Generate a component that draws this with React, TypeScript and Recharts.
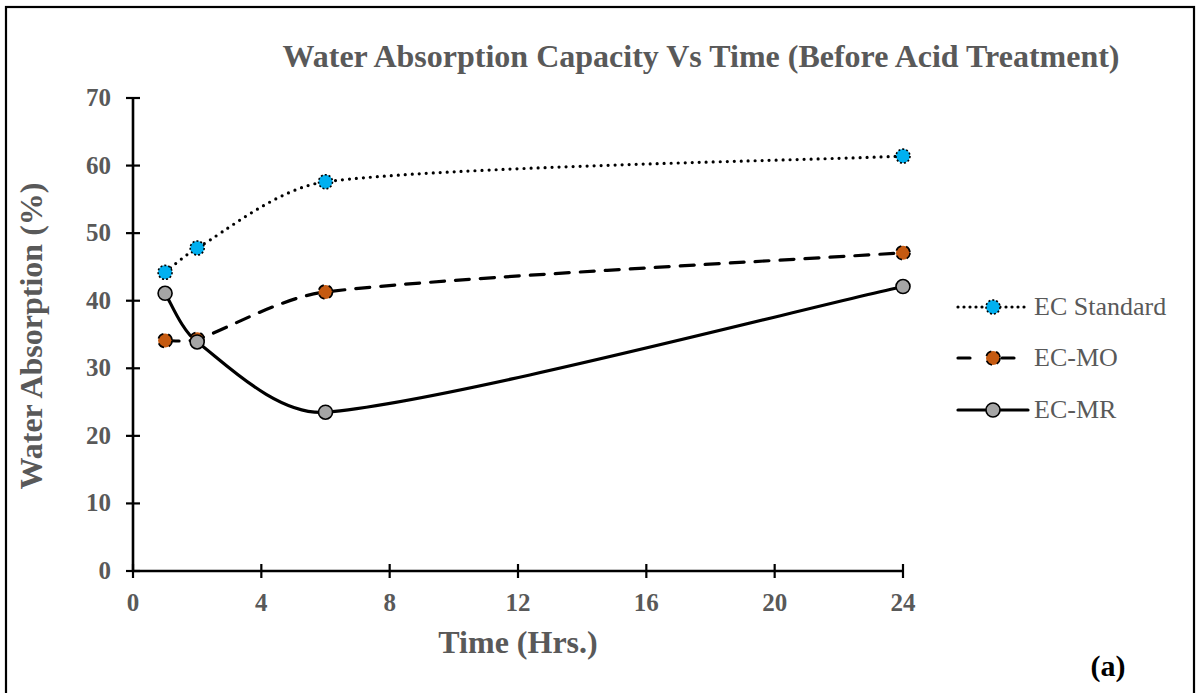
import React from 'react';
import { LineChart, Line, XAxis, YAxis, Legend } from 'recharts';

const hours = [1, 2, 6, 24];
const ecStandard = [44.2, 47.8, 57.6, 61.4];
const ecMo = [34.1, 34.3, 41.3, 47.1];
const ecMr = [41.1, 33.9, 23.5, 42.1];

const xTicks = [0, 4, 8, 12, 16, 20, 24];
const yTicks = [0, 10, 20, 30, 40, 50, 60, 70];

const series = [
  { key: 'std', name: 'EC Standard', fill: '#00B0F0', dash: '0 7', legendDash: '0 6', markerDash: '2 2' },
  { key: 'mo', name: 'EC-MO', fill: '#C55A11', dash: '14 11', legendDash: '12 32', markerDash: '7 5' },
  { key: 'mr', name: 'EC-MR', fill: '#A5A5A5', dash: undefined, legendDash: undefined, markerDash: undefined },
];

const data = hours.map((h, i) => ({ hours: h, std: ecStandard[i], mo: ecMo[i], mr: ecMr[i] }));

const FONT = '"Liberation Serif", "Times New Roman", serif';
const GREY = '#595959';

// spreadsheet-style smoothing: Bezier handles along the neighbour chord (1/6),
// clamped to a third of the segment so short segments don't loop
const handle = (a: number[], b: number[], seg: number) => {
  let hx = (b[0] - a[0]) / 6;
  let hy = (b[1] - a[1]) / 6;
  const len = Math.hypot(hx, hy);
  const max = seg / 3;
  if (len > max && len > 0) {
    hx *= max / len;
    hy *= max / len;
  }
  return [hx, hy];
};

const smoothCurve = (context: any) => {
  let pts: number[][] = [];
  return {
    areaStart() {},
    areaEnd() {},
    lineStart() {
      pts = [];
    },
    point(x: number, y: number) {
      pts.push([+x, +y]);
    },
    lineEnd() {
      if (!pts.length) return;
      context.moveTo(pts[0][0], pts[0][1]);
      for (let i = 0; i < pts.length - 1; i++) {
        const p0 = pts[Math.max(i - 1, 0)];
        const p1 = pts[i];
        const p2 = pts[i + 1];
        const p3 = pts[Math.min(i + 2, pts.length - 1)];
        const seg = Math.hypot(p2[0] - p1[0], p2[1] - p1[1]);
        const h1 = handle(p0, p2, seg);
        const h2 = handle(p1, p3, seg);
        context.bezierCurveTo(p1[0] + h1[0], p1[1] + h1[1], p2[0] - h2[0], p2[1] - h2[1], p2[0], p2[1]);
      }
    },
  };
};

// ticks cross the axis line, label sits outside
const YTick = ({ x, y, payload }: any) => (
  <g>
    <line x1={x - 7} x2={x + 7} y1={y} y2={y} stroke="#000" strokeWidth={2.2} />
    <text x={x - 22} y={y} dy={8} textAnchor="end" fontFamily={FONT} fontWeight="bold" fontSize={25} fill={GREY}>
      {payload.value}
    </text>
  </g>
);

const XTick = ({ x, y, payload }: any) => (
  <g>
    <line x1={x} x2={x} y1={y - 7} y2={y + 7} stroke="#000" strokeWidth={2.2} />
    <text x={x} y={y + 40} textAnchor="middle" fontFamily={FONT} fontWeight="bold" fontSize={25} fill={GREY}>
      {payload.value}
    </text>
  </g>
);

const markerFor = (fill: string, dash?: string) => (p: any) => (
  <circle
    key={`m-${p.index}`}
    cx={p.cx}
    cy={p.cy}
    r={7}
    fill={fill}
    stroke="#000"
    strokeWidth={1.6}
    strokeDasharray={dash}
  />
);

const LegendBox = ({ payload }: any) => (
  <div style={{ width: 240 }}>
    {(payload || []).map((item: any) => {
      const s = series.find((d) => d.key === item.dataKey)!;
      return (
        <div key={s.key} style={{ display: 'flex', alignItems: 'center', height: 51.5 }}>
          <svg width={76} height={20} style={{ flexShrink: 0 }}>
            <line x1={4} x2={74} y1={10} y2={10} stroke="#000" strokeWidth={3.2}
              strokeDasharray={s.legendDash} strokeLinecap="round" />
            {markerFor(s.fill, s.markerDash)({ cx: 39, cy: 10, index: 0 })}
          </svg>
          <span style={{ fontFamily: FONT, fontSize: 26, color: GREY, marginLeft: 4 }}>{s.name}</span>
        </div>
      );
    })}
  </div>
);

export default function App() {
  return (
    <div style={{ position: 'absolute', left: 0, top: 0, width: 1198, height: 693, background: '#fff' }}>
      <LineChart width={1198} height={693} data={data} margin={{ top: 98, right: 295, bottom: 82, left: 73 }}>
        <XAxis
          dataKey="hours"
          type="number"
          domain={[0, 24]}
          ticks={xTicks}
          height={40}
          tickSize={0}
          tickMargin={0}
          tickLine={false}
          axisLine={{ stroke: '#000', strokeWidth: 2.6 }}
          tick={<XTick />}
        />
        <YAxis
          type="number"
          domain={[0, 70]}
          ticks={yTicks}
          width={60}
          tickSize={0}
          tickMargin={0}
          tickLine={false}
          axisLine={{ stroke: '#000', strokeWidth: 2.6 }}
          tick={<YTick />}
        />
        <Legend
          layout="vertical"
          content={<LegendBox />}
          wrapperStyle={{ position: 'absolute', left: 954, top: 281, width: 0, height: 0, overflow: 'visible' }}
        />
        {series.map((s) => (
          <Line
            key={s.key}
            dataKey={s.key}
            name={s.name}
            type={smoothCurve as any}
            stroke="#000"
            strokeWidth={3.2}
            strokeDasharray={s.dash}
            strokeLinecap="round"
            dot={markerFor(s.fill, s.markerDash)}
            activeDot={false}
            isAnimationActive={false}
          />
        ))}
      </LineChart>
      <svg width={1198} height={693} style={{ position: 'absolute', left: 0, top: 0, pointerEvents: 'none' }}>
        <rect x={6} y={7} width={1188} height={700} fill="none" stroke="#000" strokeWidth={2.2} />
        <text x={701} y={67} textAnchor="middle" fontFamily={FONT} fontWeight="bold" fontSize={32} fill={GREY}>
          Water Absorption Capacity Vs Time (Before Acid Treatment)
        </text>
        <text
          x={42}
          y={336}
          textAnchor="middle"
          transform="rotate(-90 42 336)"
          fontFamily={FONT}
          fontWeight="bold"
          fontSize={32}
          fill={GREY}
        >
          Water Absorption (%)
        </text>
        <text x={518} y={653} textAnchor="middle" fontFamily={FONT} fontWeight="bold" fontSize={32} fill={GREY}>
          Time (Hrs.)
        </text>
        <text x={1108} y={676} textAnchor="middle" fontFamily={FONT} fontWeight="bold" fontSize={30} fill="#000">
          (a)
        </text>
      </svg>
    </div>
  );
}
